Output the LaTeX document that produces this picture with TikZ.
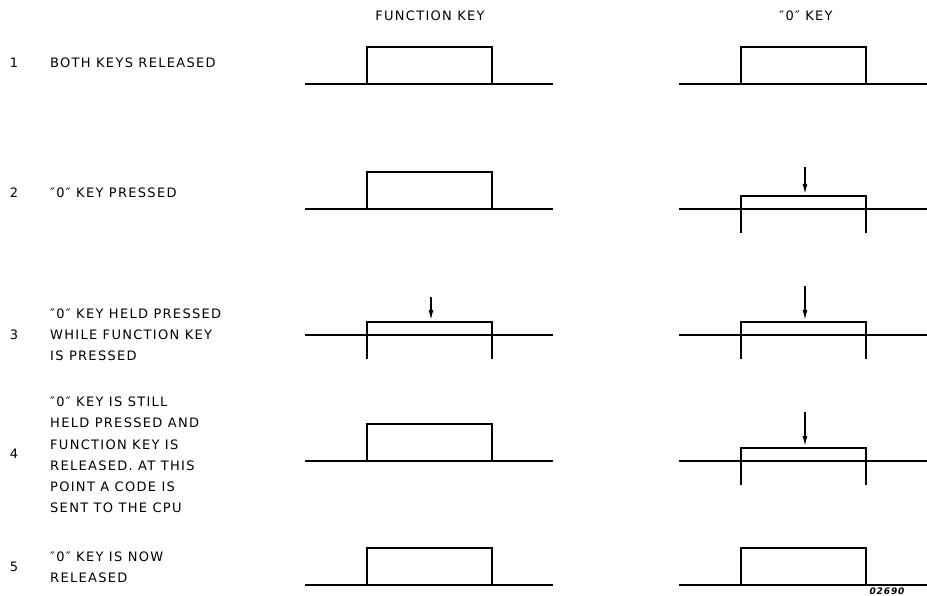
\documentclass[tikz,border=0pt]{standalone}
\usepackage{fontspec}
\setmainfont{DejaVu Sans}[LetterSpace=10]
\usetikzlibrary{arrows.meta}

\newcommand{\lbl}{\fontsize{13}{21.2}\selectfont}

% key at rest: #1 left end of the base line, #2 level of the base line
\newcommand{\keyup}[2]{%
  \draw[base] (#1,#2) -- ++(248,0);
  \draw[keycap] (#1+62,#2) -- ++(0,-37) -- ++(125,0) -- ++(0,37);
}
% key pushed down: #3 length of the arrow
\newcommand{\keydown}[3]{%
  \draw[base] (#1,#2) -- ++(248,0);
  \draw[keycap] (#1+62,#2+24) -- ++(0,-37) -- ++(125,0) -- ++(0,37);
  \draw[push] (#1+126,#2-15-#3) -- ++(0,#3);
}

\tikzset{
  base/.style={line width=1.7pt},
  keycap/.style={line width=1.5pt},
  push/.style={line width=1.3pt,-{Latex[length=10pt,width=5pt]}},
  steptext/.style={anchor=west,align=left,font=\lbl,inner sep=0pt},
  stepno/.style={font=\lbl,inner sep=0pt},
}

\begin{document}
\begin{tikzpicture}[x=1pt,y=-1pt]
\useasboundingbox (0,0) rectangle (927,596);

% column heads
\node[stepno] (hdfn) at (430,16) {FUNCTION KEY};
\node[stepno] (hdzero) at (806,16) {″0″ KEY};

% step 1
\node[stepno] (no1) at (14,63) {1};
\node[steptext] (txt1) at (50,63) {BOTH KEYS RELEASED};
\keyup{305}{84}
\keyup{679}{84}

% step 2
\node[stepno] (no2) at (14,193) {2};
\node[steptext] (txt2) at (50,193) {″0″ KEY PRESSED};
\keyup{305}{209}
\keydown{679}{209}{27}

% step 3
\node[stepno] (no3) at (14,335) {3};
\node[steptext] (txt3) at (50,335) {″0″ KEY HELD PRESSED\\WHILE FUNCTION KEY\\IS PRESSED};
\keydown{305}{335}{23}
\keydown{679}{335}{34}

% step 4
\node[stepno] (no4) at (14,454) {4};
\node[steptext] (txt4) at (50,455) {″0″ KEY IS STILL\\HELD PRESSED AND\\FUNCTION KEY IS\\RELEASED. AT THIS\\POINT A CODE IS\\SENT TO THE CPU};
\keyup{305}{461}
\keydown{679}{461}{34}

% step 5
\node[stepno] (no5) at (14,567) {5};
\node[steptext] (txt5) at (50,567) {″0″ KEY IS NOW\\RELEASED};
\keyup{305}{585}
\keyup{679}{585}

% drawing number
\node[font=\fontsize{9}{9}\selectfont\bfseries\itshape,inner sep=0pt] (dwg) at (887,591) {02690};
\end{tikzpicture}
\end{document}
